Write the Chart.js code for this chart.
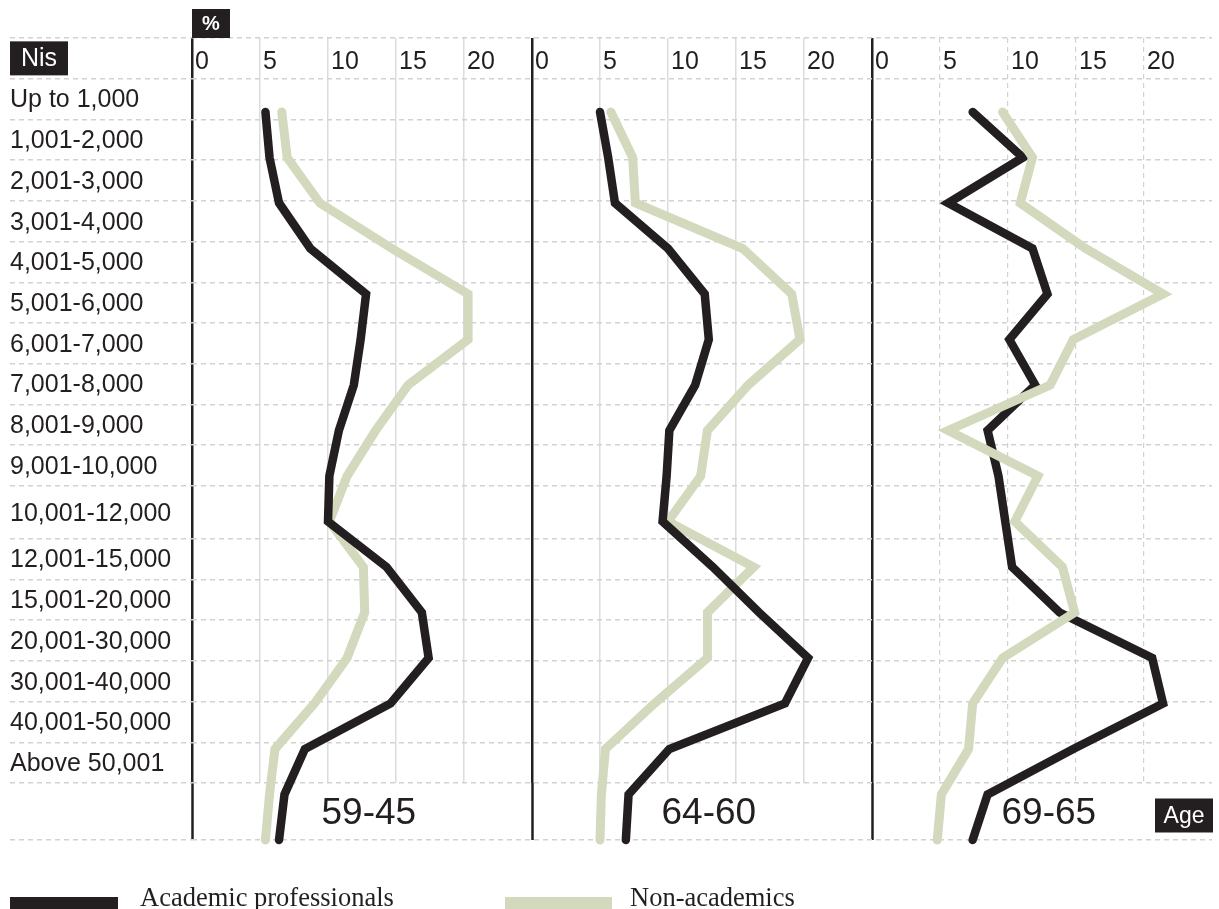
<!DOCTYPE html>
<html>
<head>
<meta charset="utf-8">
<script src="https://cdn.jsdelivr.net/npm/chart.js@4.4.1/dist/chart.umd.min.js"></script>
<style>
  html, body { margin: 0; padding: 0; background: #ffffff; }
  #wrap { position: relative; width: 1219px; height: 909px; overflow: hidden; }
  #c { position: absolute; left: 0; top: 0; }
  .legText { position: absolute; top: 884px; font-family: 'Liberation Serif', 'Times New Roman', serif;
             font-size: 26.5px; line-height: 1; color: #231f20; white-space: nowrap; }
  .legBar { position: absolute; top: 897px; height: 14px; }
</style>
</head>
<body>
<div id="wrap">
  <canvas id="c" width="1219" height="909"></canvas>
</div>
<script>
// ---------------- DATA ----------------
const categories = ['Up to 1,000', '1,001-2,000', '2,001-3,000', '3,001-4,000', '4,001-5,000',
  '5,001-6,000', '6,001-7,000', '7,001-8,000', '8,001-9,000', '9,001-10,000', '10,001-12,000',
  '12,001-15,000', '15,001-20,000', '20,001-30,000', '30,001-40,000', '40,001-50,000', 'Above 50,001'];
const ageGroups = ['59-45', '64-60', '69-65'];
const seriesNames = ['Academic professionals', 'Non-academics'];
const xTickValues = [0, 5, 10, 15, 20];

const academic_45_59    = [5.4, 5.7, 6.4, 8.7, 12.8, 12.4, 11.9, 10.8, 10.1, 10.0, 14.3, 16.9, 17.4, 14.6, 8.3, 6.8, 6.4];
const nonAcademic_45_59 = [6.6, 7.0, 9.4, 14.7, 20.3, 20.3, 15.9, 13.5, 11.4, 10.1, 12.6, 12.7, 11.4, 9.0, 6.1, 5.7, 5.4];
const academic_60_64    = [5.0, 5.6, 6.1, 10.0, 12.7, 13.0, 12.0, 10.1, 9.9, 9.6, 13.3, 16.7, 20.3, 18.6, 10.1, 7.1, 6.9];
const nonAcademic_60_64 = [5.8, 7.4, 7.6, 15.5, 19.1, 19.7, 15.9, 12.9, 12.4, 10.0, 16.3, 12.9, 12.9, 9.0, 5.4, 5.1, 5.0];
const academic_65_69    = [7.4, 11.1, 5.6, 11.8, 12.9, 10.1, 12.0, 8.5, 9.3, 9.8, 10.3, 13.8, 20.6, 21.4, 14.8, 8.5, 7.4];
const nonAcademic_65_69 = [9.6, 11.8, 10.9, 15.7, 21.4, 14.8, 13.1, 5.6, 12.2, 10.5, 14.0, 14.9, 9.6, 7.4, 7.1, 5.1, 4.8];

// ---------------- STYLE / LAYOUT ----------------
const INK = '#231f20';
const SAGE = '#d3d9bc';
const SANS = "'Liberation Sans', Arial, Helvetica, sans-serif";
const PANEL = 25;                 // width of one panel in % units
const GRID_SOLID = '#dcdcdc';
const GRID_DASH = '#d2d2d2';
const DASH = [5, 4];

Chart.defaults.font.family = SANS;

const panels = [
  { academic: academic_45_59, non: nonAcademic_45_59, blackOnTop: true },
  { academic: academic_60_64, non: nonAcademic_60_64, blackOnTop: true },
  { academic: academic_65_69, non: nonAcademic_65_69, blackOnTop: false }
];

// row structure of the table grid (header row, one row per category, age row)
const rowHeights = [1].concat(categories.map((c, i) => (i === 10 ? 1.3 : 1))).concat([1.4]);
const edges = [0];
rowHeights.forEach(h => edges.push(+(edges[edges.length - 1] + h).toFixed(4)));
const edgeSet = new Set(edges);
const catCenters = categories.map((c, i) => +((edges[i + 1] + edges[i + 2]) / 2).toFixed(4));
const gridMax = edges[edges.length - 2];

const datasets = [];
panels.forEach((p, pi) => {
  const mk = (vals, name, color, width, order) => ({
    label: name + ' ' + ageGroups[pi],
    data: vals.map((v, i) => ({ x: v + pi * PANEL, y: i })),
    borderColor: color,
    backgroundColor: color,
    borderWidth: width,
    pointRadius: 0,
    pointHoverRadius: 0,
    tension: 0,
    fill: false,
    borderCapStyle: 'round',
    borderJoinStyle: 'miter',
    clip: false,
    order: order,
    xAxisID: 'x',
    yAxisID: 'yData'
  });
  datasets.push(mk(p.academic, seriesNames[0], INK, 8.5, p.blackOnTop ? 0 : 1));
  datasets.push(mk(p.non, seriesNames[1], SAGE, 9, p.blackOnTop ? 1 : 0));
});

const zeroPads = s => { s.paddingLeft = 0; s.paddingRight = 0; s.paddingTop = 0; s.paddingBottom = 0; };

const boxPlugin = {
  id: 'labelBoxes',
  afterDraw(chart) {
    const { ctx, chartArea, scales } = chart;
    const rows = scales.rows;
    const box = (x, y, w, h, text, font) => {
      ctx.fillStyle = INK;
      ctx.fillRect(x, y, w, h);
      ctx.fillStyle = '#ffffff';
      ctx.font = font;
      ctx.textAlign = 'center';
      ctx.textBaseline = 'middle';
      ctx.fillText(text, x + w / 2, y + h / 2 + 1);
    };
    ctx.save();
    box(chartArea.left, 9, 38, chartArea.top - 9, '%', 'bold 20px ' + SANS);
    const nisMid = rows.getPixelForValue((edges[0] + edges[1]) / 2);
    box(10, nisMid - 17, 58, 34, 'Nis', '25px ' + SANS);
    const ageMid = rows.getPixelForValue((edges[edges.length - 2] + edges[edges.length - 1]) / 2);
    box(chartArea.right - 57, ageMid - 13, 58, 34, 'Age', '23px ' + SANS);
    ctx.restore();
  }
};

new Chart(document.getElementById('c'), {
  type: 'line',
  data: { labels: categories, datasets: datasets },
  plugins: [boxPlugin],
  options: {
    responsive: false,
    animation: false,
    events: [],
    layout: { padding: { left: 10, top: 38, right: 7, bottom: 69 } },
    plugins: { legend: { display: false }, tooltip: { enabled: false }, title: { display: false } },
    scales: {
      x: {
        type: 'linear', axis: 'x', position: 'top', min: 0, max: 3 * PANEL,
        afterBuildTicks: s => {
          const t = [];
          for (let p = 0; p < 3; p++) xTickValues.forEach(v => t.push({ value: p * PANEL + v }));
          s.ticks = t;
        },
        afterFit: s => { s.height = 0; zeroPads(s); },
        ticks: {
          autoSkip: false, maxRotation: 0, minRotation: 0, align: 'start', labelOffset: 3,
          mirror: true, padding: 9,
          color: INK, font: { family: SANS, size: 25 },
          callback: v => String(xTickValues[xTickValues.indexOf(v % PANEL)])
        },
        grid: {
          drawTicks: false,
          color: c => {
            const v = c.tick.value;
            if (v % PANEL === 0) return INK;
            if (v > 2 * PANEL) return 'rgba(0,0,0,0)';
            return GRID_SOLID;
          },
          lineWidth: c => (c.tick.value % PANEL === 0 ? 2.5 : 1.5)
        },
        border: { display: false }
      },
      x3: {
        type: 'linear', axis: 'x', position: 'top', min: 0, max: 3 * PANEL,
        afterBuildTicks: s => { s.ticks = xTickValues.filter(v => v > 0).map(v => ({ value: 2 * PANEL + v })); },
        afterFit: s => { s.height = 0; zeroPads(s); },
        ticks: { display: false },
        grid: { drawTicks: false, color: GRID_DASH, lineWidth: 1.2 },
        border: { display: false, dash: DASH }
      },
      xAge: {
        type: 'linear', axis: 'x', position: 'bottom', min: 0, max: 3 * PANEL,
        afterBuildTicks: s => {
          const t = [];
          for (let p = 0; p < 3; p++) { t.push({ value: p * PANEL }); t.push({ value: p * PANEL + 13 }); }
          s.ticks = t;
        },
        afterFit: s => { s.height = 57; zeroPads(s); },
        ticks: {
          autoSkip: false, maxRotation: 0, minRotation: 0, padding: -48.2,
          color: INK, font: { family: SANS, size: 37 },
          callback: v => (v % PANEL === 0 ? '' : ageGroups[Math.floor(v / PANEL)])
        },
        grid: {
          drawOnChartArea: false, drawTicks: true, tickLength: 57, tickWidth: 2.5,
          tickColor: c => (c.tick.value % PANEL === 0 ? INK : 'rgba(0,0,0,0)')
        },
        border: { display: false }
      },
      rows: {
        type: 'linear', axis: 'y', position: 'left', reverse: true, min: 0, max: gridMax, weight: 0,
        afterBuildTicks: s => {
          s.ticks = edges.concat(catCenters).sort((a, b) => a - b).map(v => ({ value: v }));
        },
        afterFit: s => { s.width = 182; zeroPads(s); },
        ticks: {
          autoSkip: false, crossAlign: 'far', padding: 0, labelOffset: 1.5,
          color: INK, font: { family: SANS, size: 25 },
          callback: v => { const k = catCenters.indexOf(v); return k >= 0 ? categories[k] : ''; }
        },
        grid: {
          drawTicks: true, tickLength: 182, lineWidth: 1.5, tickWidth: 1.5, tickBorderDash: DASH,
          color: c => (edgeSet.has(c.tick.value) ? GRID_DASH : 'rgba(0,0,0,0)'),
          tickColor: c => (edgeSet.has(c.tick.value) ? GRID_DASH : 'rgba(0,0,0,0)')
        },
        border: { display: false, dash: DASH }
      },
      yData: {
        type: 'linear', axis: 'y', position: 'left', reverse: true, display: false, weight: 1,
        min: -1.6264, max: 14.7472,
        ticks: { callback: v => categories[v] || '' }
      }
    }
  }
});

// ---------------- LEGEND ----------------
const wrap = document.getElementById('wrap');
const legendItems = [
  { name: seriesNames[0], color: INK, barLeft: 10, barWidth: 108, textLeft: 140 },
  { name: seriesNames[1], color: SAGE, barLeft: 505, barWidth: 107, textLeft: 630 }
];
legendItems.forEach(it => {
  const bar = document.createElement('div');
  bar.className = 'legBar';
  bar.style.left = it.barLeft + 'px';
  bar.style.width = it.barWidth + 'px';
  bar.style.background = it.color;
  wrap.appendChild(bar);
  const txt = document.createElement('div');
  txt.className = 'legText';
  txt.style.left = it.textLeft + 'px';
  txt.textContent = it.name;
  wrap.appendChild(txt);
});
</script>
</body>
</html>
